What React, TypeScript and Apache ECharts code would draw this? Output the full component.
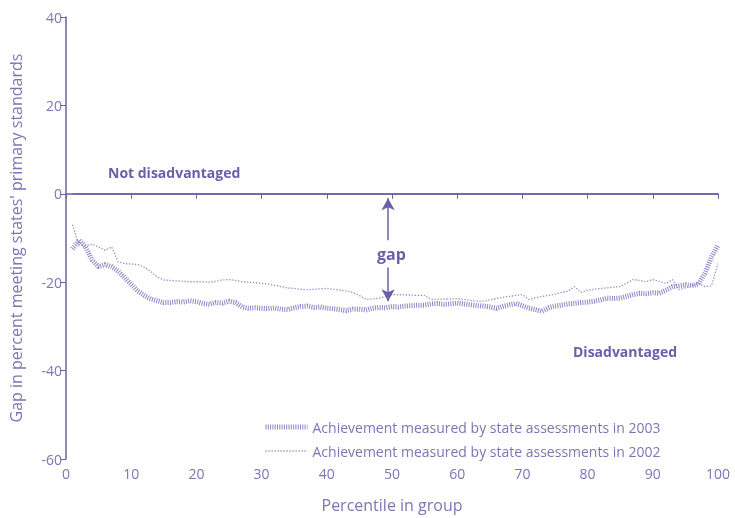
import React, { useEffect, useRef } from "react";
import * as echarts from "echarts";

const percentiles: number[] = Array.from({ length: 100 }, (_, i) => i + 1);

const gap2003: number[] = [
  -12.5, -10.5, -12, -15, -16.5, -16, -16.5, -17.5, -19, -20.5,
  -22, -23, -23.8, -24.2, -24.6, -24.6, -24.4, -24.5, -24.2, -24.4,
  -24.8, -25, -24.6, -24.7, -24.3, -24.6, -25.6, -25.9, -25.8, -25.9,
  -26, -25.8, -26.1, -26.2, -25.8, -25.5, -25.4, -25.7, -25.6, -25.9,
  -26, -26.2, -26.4, -26.1, -26.1, -26.3, -25.9, -25.7, -25.8, -25.5,
  -25.6, -25.4, -25.3, -25.2, -25.2, -24.9, -24.8, -25, -24.9, -24.7,
  -24.9, -25.1, -25.3, -25.4, -25.6, -25.9, -25.5, -25.1, -24.8, -25.3,
  -25.9, -26.2, -26.6, -25.8, -25.4, -25.2, -24.9, -24.8, -24.6, -24.5,
  -24.3, -24, -23.6, -23.7, -23.6, -23.2, -22.8, -22.5, -22.6, -22.4,
  -22.5, -21.8, -21, -20.8, -20.6, -20.8, -20.4, -18, -14.3, -11.6,
];

const gap2002: number[] = [
  -7, -11.6, -11.8, -11.4, -12, -12.8, -12, -15.4, -15.8, -15.9,
  -16, -16.6, -17.6, -18.8, -19.5, -19.6, -19.7, -19.8, -19.9, -19.9,
  -19.9, -20, -19.8, -19.5, -19.4, -19.6, -19.9, -20, -20.1, -20.3,
  -20.4, -20.7, -21, -21.3, -21.4, -21.6, -21.7, -21.6, -21.5, -21.4,
  -21.6, -21.8, -22, -22.3, -23, -23.9, -23.8, -23.6, -23.2, -22.8,
  -22.8, -22.9, -22.9, -23, -23, -23.9, -23.9, -23.8, -23.8, -23.7,
  -23.9, -24.1, -24.3, -24.3, -24, -23.7, -23.4, -23.2, -23, -22.8,
  -23.9, -23.5, -23.2, -23, -22.7, -22.3, -22, -21, -22.3, -21.8,
  -21.6, -21.4, -21.3, -21.1, -21, -20.2, -19.4, -19.6, -19.9, -19.4,
  -19.8, -20.3, -19.4, -21.7, -21.3, -20.8, -20.3, -21, -20.8, -15.8,
];

const seriesNames: string[] = [
  "Achievement measured by state assessments in 2003",
  "Achievement measured by state assessments in 2002",
];

const xTicks = { min: 0, max: 100, interval: 10 };
const yTicks = { min: -60, max: 40, interval: 20 };

const gapX = 49.4;

const AXIS = "#6a60aa";
const TEXT = "#7d75b5";
const C2003 = "#8d85c4";
const C2002 = "#948dc8";
const FONT = "'Open Sans', 'Noto Sans', sans-serif";

export default function App() {
  const ref = useRef<HTMLDivElement>(null);
  useEffect(() => {
    if (!ref.current) return;
    const chart = echarts.init(ref.current, undefined, { renderer: "svg" });
    chart.setOption({
      animation: false,
      textStyle: { fontFamily: FONT },
      grid: { left: 66, right: 17, top: 17, bottom: 53, containLabel: false },
      legend: {
        orient: "vertical",
        left: 258,
        top: 415,
        itemWidth: 42,
        itemHeight: 10,
        itemGap: 10,
        itemStyle: { opacity: 0 },
        textStyle: { color: TEXT, fontSize: 14, fontFamily: FONT },
        data: [
          { name: seriesNames[0], lineStyle: { width: 5, color: C2003, type: [1, 1.3] } },
          { name: seriesNames[1], lineStyle: { width: 1.3, color: C2002, type: [1.3, 1.7] } },
        ],
      },
      xAxis: {
        type: "value",
        min: xTicks.min,
        max: xTicks.max,
        interval: xTicks.interval,
        name: "Percentile in group",
        nameLocation: "middle",
        nameGap: 38,
        nameTextStyle: { color: TEXT, fontSize: 16, fontFamily: FONT },
        axisLine: { show: true, lineStyle: { color: AXIS, width: 1.5 } },
        axisTick: { show: true, length: 5, lineStyle: { color: AXIS } },
        axisLabel: { color: TEXT, fontSize: 14, margin: 7, fontFamily: FONT },
        splitLine: { show: false },
      },
      yAxis: {
        type: "value",
        min: yTicks.min,
        max: yTicks.max,
        interval: yTicks.interval,
        name: "Gap in percent meeting states' primary standards",
        nameLocation: "middle",
        nameGap: 42,
        nameTextStyle: { color: TEXT, fontSize: 16, fontFamily: FONT },
        axisLine: { show: true, onZero: false, lineStyle: { color: AXIS, width: 1.5 } },
        axisTick: { show: true, length: 6, lineStyle: { color: AXIS } },
        axisLabel: { color: TEXT, fontSize: 14, margin: 4, fontFamily: FONT },
        splitLine: { show: false },
      },
      series: [
        {
          name: seriesNames[0],
          type: "line",
          showSymbol: false,
          symbol: "none",
          data: percentiles.map((p, i) => [p, gap2003[i]]),
          lineStyle: { color: C2003, width: 5, type: [1, 1.3] },
          itemStyle: { color: C2003 },
          z: 3,
        },
        {
          name: seriesNames[1],
          type: "line",
          showSymbol: false,
          symbol: "none",
          data: percentiles.map((p, i) => [p, gap2002[i]]),
          lineStyle: { color: C2002, width: 1.3, type: [1.3, 1.7] },
          itemStyle: { color: C2002 },
          z: 2,
          markLine: {
            silent: true,
            animation: false,
            label: { show: false },
            lineStyle: { color: AXIS, width: 1.5, type: "solid" },
            symbolSize: [10, 12],
            data: [
              [
                { coord: [1, 0], symbol: "none" },
                { coord: [100, 0], symbol: "none" },
              ],
              [
                { coord: [gapX, -10.5], symbol: "none" },
                { coord: [gapX, -1], symbol: "arrow" },
              ],
              [
                { coord: [gapX, -16.7], symbol: "none" },
                { coord: [gapX, -24.3], symbol: "arrow" },
              ],
            ],
          },
        },
      ],
      graphic: [
        {
          type: "text",
          left: 108,
          top: 165,
          style: { text: "Not disadvantaged", fill: AXIS, font: `bold 14px ${FONT}` },
        },
        {
          type: "text",
          left: 573,
          top: 344,
          style: { text: "Disadvantaged", fill: AXIS, font: `bold 14px ${FONT}` },
        },
        {
          type: "text",
          left: 377,
          top: 246,
          style: { text: "gap", fill: AXIS, font: `bold 16px ${FONT}` },
        },
      ],
    });
    return () => chart.dispose();
  }, []);
  return (
    <div
      ref={ref}
      style={{ position: "fixed", left: 0, top: 0, width: 735, height: 518 }}
    />
  );
}
